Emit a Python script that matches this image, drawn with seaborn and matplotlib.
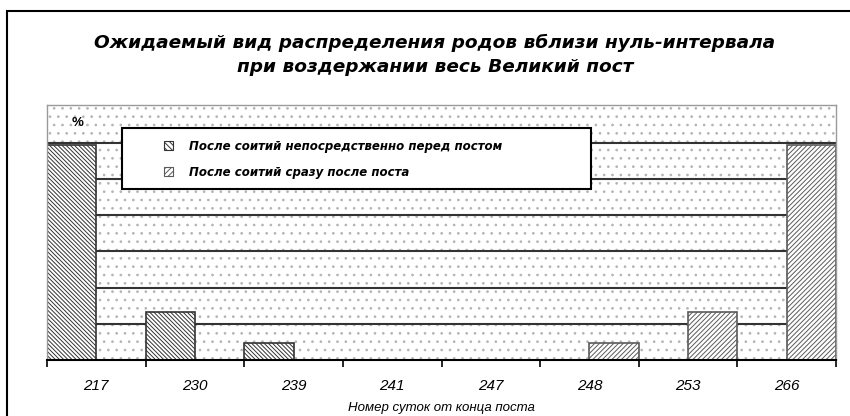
import matplotlib
matplotlib.use("Agg")
import matplotlib.pyplot as plt
import seaborn as sns
import pandas as pd
from matplotlib.patches import Rectangle, Patch

# ---- data ----
days = ["217", "230", "239", "241", "247", "248", "253", "266"]
before_values = [5.95, 1.33, 0.47, 0, 0, 0, 0, 0]
after_values = [0, 0, 0, 0, 0, 0.47, 1.33, 5.95]
series_names = ["После соитий непосредственно перед постом",
                "После соитий сразу после поста"]
title_text = ("Ожидаемый вид распределения родов вблизи нуль-интервала\n"
              "при воздержании весь Великий пост")
xlabel_text = "Номер суток от конца поста"
ylabel_text = "%"

df = pd.DataFrame({
    "day": days * 2,
    "value": before_values + after_values,
    "series": [series_names[0]] * len(days) + [series_names[1]] * len(days),
})

sns.set_theme(style="white")
plt.rcParams['font.family'] = ['Liberation Sans', 'DejaVu Sans']
plt.rcParams['hatch.linewidth'] = 0.7
plt.rcParams['text.color'] = 'black'
plt.rcParams['axes.labelcolor'] = 'black'
plt.rcParams['xtick.color'] = 'black'

W, H = 850, 416
fig = plt.figure(figsize=(8.5, 4.16), dpi=100)
fig.patch.set_facecolor("white")

# outer frame
fig.patches.append(Rectangle((7 / W, -0.05), 1.2, 1 - 11 / H + 0.05,
                             transform=fig.transFigure, fill=False,
                             edgecolor="black", lw=1.5))

ax = fig.add_axes([47 / W, (H - 360) / H, (836 - 47) / W, (360 - 105) / H])
ax.set_facecolor("white")

# dotted background
bg = Rectangle((0, 0), 1, 1, transform=ax.transAxes, facecolor="white",
               edgecolor="#b4b4b4", hatch="..", lw=0, zorder=0.1)
ax.add_patch(bg)

sns.barplot(data=df, x="day", y="value", hue="series", order=days,
            hue_order=series_names, width=1.0, gap=0, dodge=True,
            palette=["white", "white"], edgecolor="#333333", linewidth=1.2,
            legend=False, ax=ax, saturation=1)

hatches = ["\\" * 8, "/" * 7]
edgecols = ["#333333", "#5a5a5a"]
for cont, h, ec in zip(ax.containers, hatches, edgecols):
    for bar in cont:
        bar.set_hatch(h)
        bar.set_edgecolor(ec)
        bar.set_zorder(2)

ax.set_ylim(0, 7.05)
ax.set_xlim(-0.5, len(days) - 0.5)
ax.set_yticks(range(1, 7))
ax.set_yticklabels([])
ax.yaxis.grid(True, color="#333333", lw=1.5)
ax.set_axisbelow(True)
ax.tick_params(axis="y", length=0)

ax.set_xticks(range(len(days)))
ax.set_xticklabels(days, fontstyle="italic", fontsize=11)
ax.set_xticks([i - 0.5 for i in range(len(days) + 1)], minor=True)
ax.tick_params(axis="x", which="major", length=0, pad=14, labelcolor="black")
ax.tick_params(axis="x", which="minor", length=5, width=1.2, color="black",
               direction="out", bottom=True)

for s in ["left", "top", "right"]:
    ax.spines[s].set_color("#9a9a9a")
    ax.spines[s].set_linewidth(1.0)
ax.spines["bottom"].set_color("black")
ax.spines["bottom"].set_linewidth(1.5)

ax.set_xlabel(xlabel_text, fontstyle="italic", fontsize=9.5, labelpad=6,
              color="black")
ax.set_ylabel("")

fig.text(78 / W, 1 - 123 / H, ylabel_text, fontsize=9.5, fontweight="bold",
         ha="center", va="center", color="black")

fig.text(435 / W, 1 - 55 / H, title_text, ha="center", va="center",
         family=["DejaVu Sans"], fontstyle="italic", fontweight="bold",
         fontsize=13.3, linespacing=1.45, color="black")

# legend box
ax.add_patch(Rectangle((122 / W, 1 - 189 / H), (591 - 122) / W, 61 / H,
                       transform=fig.transFigure, facecolor="white",
                       edgecolor="black", lw=1.5, zorder=4.9, clip_on=False))
handles = [Patch(facecolor="white", edgecolor=ec, hatch=h, lw=0.8)
           for h, ec in zip(["\\" * 6, "/" * 6], edgecols)]
leg = ax.legend(handles, series_names, loc="upper left",
                bbox_to_anchor=(158 / W, 1 - 134 / H),
                bbox_transform=fig.transFigure, frameon=False,
                prop={"family": ["DejaVu Sans"], "style": "italic",
                      "weight": "bold", "size": 8.5},
                handlelength=0.8, handleheight=0.8, handletextpad=1.3,
                labelspacing=1.1, borderpad=0, labelcolor="black")
leg.set_zorder(5)

fig.savefig("out.png", dpi=100)
